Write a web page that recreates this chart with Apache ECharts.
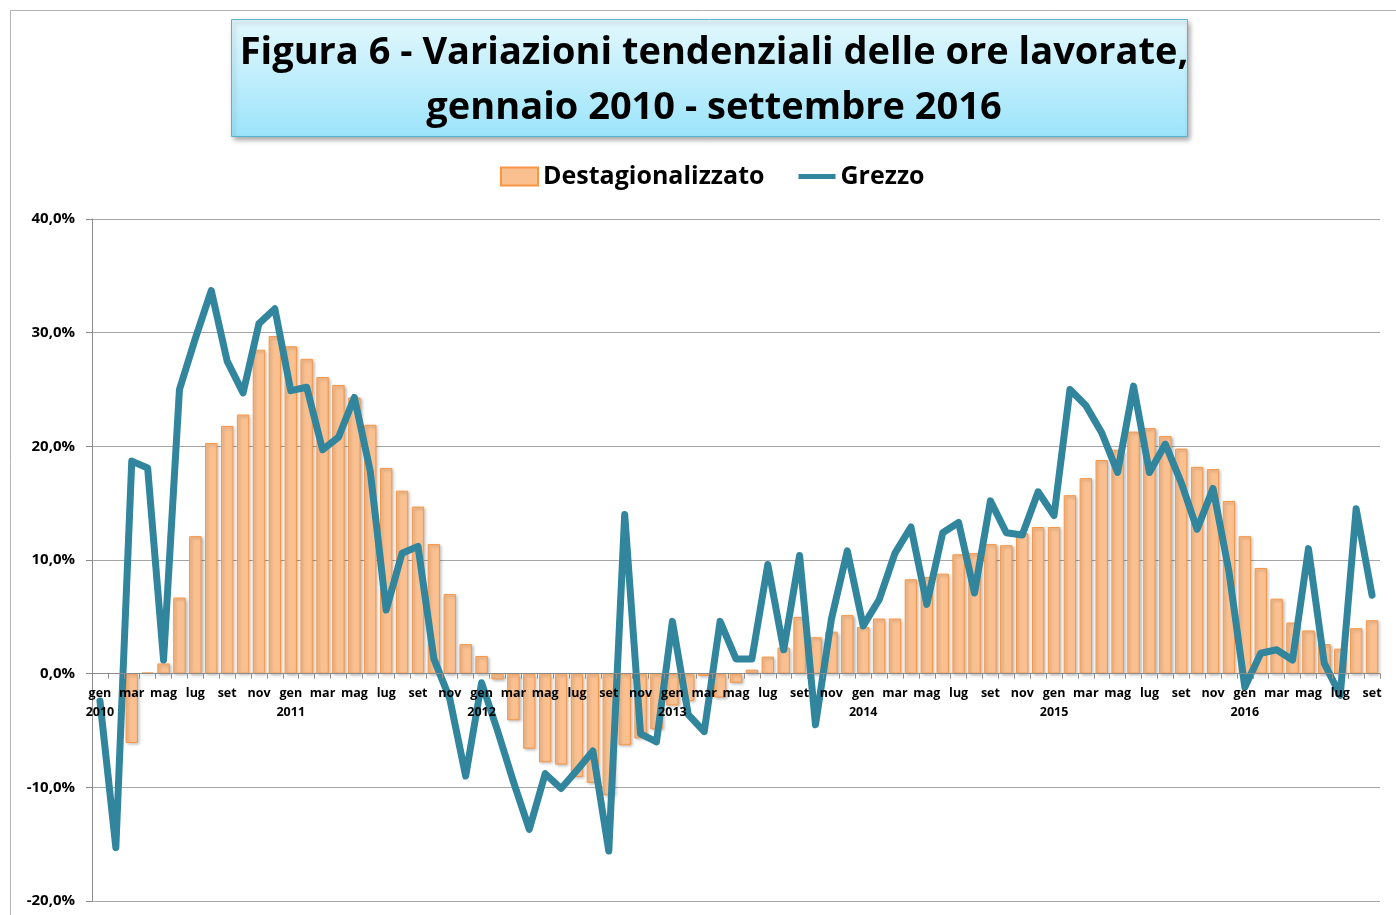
<!DOCTYPE html>
<html>
<head>
<meta charset="utf-8">
<title>Figura 6</title>
<script src="https://cdn.jsdelivr.net/npm/echarts@6/dist/echarts.min.js"></script>
<style>
  html, body { margin: 0; padding: 0; background: #fff; }
  #chart { width: 1396px; height: 915px; }
</style>
</head>
<body>
<div id="chart"></div>
<script>
// mesi e anni (gen 2010 - set 2016)
const months = ["gen", "feb", "mar", "apr", "mag", "giu", "lug", "ago", "set", "ott", "nov", "dic"];
const years = ["2010", "2011", "2012", "2013", "2014", "2015", "2016"];
const yTicks = [-20, -10, 0, 10, 20, 30, 40];

// Destagionalizzato (%)
const destag = [
  null, null, -6.1, 0.1, 0.9, 6.7, 12.1, 20.3, 21.8, 22.8, 28.5, 29.7,
  28.8, 27.7, 26.1, 25.4, 24.3, 21.9, 18.1, 16.1, 14.7, 11.4, 7.0, 2.6,
  1.55, -0.5, -4.1, -6.6, -7.8, -8.0, -9.1, -9.6, -10.7, -6.3, -5.7, -4.9,
  -2.8, -2.4, -0.2, -2.1, -0.8, 0.35, 1.5, 2.3, 5.0, 3.2, 3.7, 5.15,
  4.1, 4.85, 4.85, 8.3, 8.5, 8.8, 10.5, 10.6, 11.4, 11.3, 12.35, 12.9,
  12.9, 15.7, 17.2, 18.8, 19.7, 21.3, 21.6, 20.9, 19.8, 18.2, 18.0, 15.2,
  12.1, 9.3, 6.6, 4.5, 3.8, 2.6, 2.2, 4.0, 4.7
];

// Grezzo (%)
const grezzo = [
  -2.4, -15.3, 18.7, 18.1, 1.2, 25.0, 29.5, 33.7, 27.5, 24.7, 30.8, 32.1,
  24.9, 25.2, 19.7, 20.8, 24.3, 17.8, 5.6, 10.6, 11.2, 1.3, -2.2, -9.0,
  -0.8, -5.0, -9.5, -13.7, -8.8, -10.1, -8.5, -6.8, -15.6, 14.0, -5.3, -6.0,
  4.6, -3.6, -5.1, 4.6, 1.3, 1.3, 9.6, 2.1, 10.4, -4.5, 4.8, 10.8,
  4.2, 6.5, 10.6, 12.9, 6.1, 12.4, 13.3, 7.1, 15.2, 12.4, 12.2, 16.0,
  13.9, 25.0, 23.6, 21.2, 17.7, 25.3, 17.7, 20.2, 16.8, 12.7, 16.3, 9.0,
  -1.2, 1.8, 2.1, 1.2, 11.0, 0.9, -1.9, 14.5, 6.9
];

const categories = destag.map((v, i) => months[i % 12]);

const chart = echarts.init(document.getElementById("chart"));
const FONT = "Open Sans";

// area del grafico
const GRID = { left: 92, right: 16, top: 219, bottom: 14 };
const plotH = 915 - GRID.top - GRID.bottom;
const yMin = yTicks[0];
const yMax = yTicks[yTicks.length - 1];
// l'asse delle categorie sta sullo zero (etichette comprese)
const zeroOffset = -((0 - yMin) / (yMax - yMin)) * plotH;

const option = {
  animation: false,
  textStyle: { fontFamily: FONT },
  graphic: [
    {
      type: "rect",
      shape: { x: 10.5, y: 10.5, width: 1400, height: 920 },
      style: { fill: "none", stroke: "#b3b3b3", lineWidth: 1 },
      silent: true
    },
    {
      type: "rect",
      shape: { x: 231.5, y: 19.5, width: 956, height: 117 },
      style: {
        fill: new echarts.graphic.LinearGradient(0, 0, 0, 1, [
          { offset: 0, color: "#e3f8fd" },
          { offset: 1, color: "#9ce4fb" }
        ]),
        stroke: "#58b4cc",
        lineWidth: 1,
        shadowBlur: 5,
        shadowOffsetX: 2,
        shadowOffsetY: 3,
        shadowColor: "rgba(0,0,0,0.35)"
      },
      silent: true
    }
  ],
  title: {
    text: "Figura 6 - Variazioni tendenziali delle ore lavorate,\ngennaio 2010 - settembre 2016",
    left: 709,
    top: 21,
    textAlign: "center",
    textStyle: {
      fontFamily: FONT,
      fontWeight: "bold",
      fontSize: 38,
      lineHeight: 55,
      color: "#000"
    }
  },
  legend: {
    left: 495,
    top: 159,
    itemWidth: 37,
    itemHeight: 18,
    itemGap: 34,
    textStyle: { fontFamily: FONT, fontWeight: "bold", fontSize: 25, color: "#000" },
    data: [
      { name: "Destagionalizzato", icon: "rect" },
      { name: "Grezzo", icon: "path://M0,0H36V5H0Z" }
    ]
  },
  grid: Object.assign({ outerBoundsMode: "none", containLabel: false }, GRID),
  xAxis: {
    type: "category",
    position: "bottom",
    offset: zeroOffset,
    z: 10,
    data: categories,
    boundaryGap: true,
    axisLine: { onZero: false, lineStyle: { color: "#8c8c8c", width: 1 } },
    axisTick: { show: true, interval: 0, length: 5, lineStyle: { color: "#8c8c8c" } },
    axisLabel: {
      interval: 1,
      margin: 10,
      fontFamily: FONT,
      fontWeight: "bold",
      fontSize: 12.5,
      lineHeight: 19,
      color: "#000",
      formatter: (value, index) =>
        index % 12 === 0 ? value + "\n" + years[index / 12] : value
    },
    splitLine: { show: false }
  },
  yAxis: {
    type: "value",
    min: yMin,
    max: yMax,
    interval: 10,
    axisLine: { show: true, lineStyle: { color: "#8c8c8c", width: 1 } },
    axisTick: { show: true, length: 6, lineStyle: { color: "#8c8c8c" } },
    axisLabel: {
      margin: 17,
      fontFamily: FONT,
      fontWeight: "bold",
      fontSize: 15,
      color: "#000",
      formatter: (v) => v.toFixed(1).replace(".", ",") + "%"
    },
    splitLine: { show: true, lineStyle: { color: "#a6a6a6", width: 1 } }
  },
  series: [
    {
      name: "Destagionalizzato",
      type: "bar",
      data: destag,
      barCategoryGap: "22%",
      itemStyle: {
        color: "#fac090",
        borderColor: "#f79646",
        borderWidth: 1,
        shadowBlur: 3,
        shadowOffsetX: 1.5,
        shadowOffsetY: 1.5,
        shadowColor: "rgba(0,0,0,0.25)"
      },
      z: 2
    },
    {
      name: "Grezzo",
      type: "line",
      data: grezzo,
      showSymbol: false,
      symbol: "none",
      color: "#31859c",
      lineStyle: { color: "#31859c", width: 7, join: "round", cap: "round" },
      z: 3
    }
  ]
};

chart.setOption(option);
</script>
</body>
</html>
